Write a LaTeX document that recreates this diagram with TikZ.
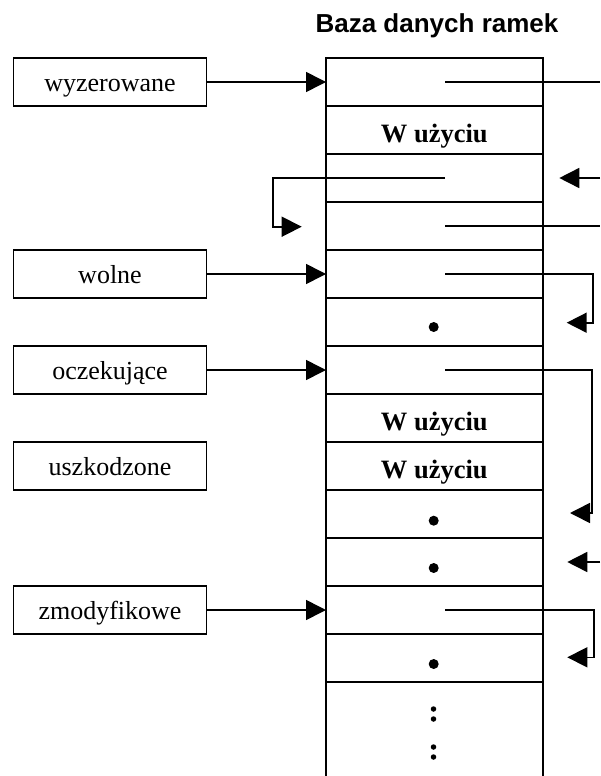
\documentclass[tikz,border=0pt]{standalone}
\usepackage{fontspec}
\setmainfont{Liberation Serif}
\setsansfont{Liberation Sans}
\usetikzlibrary{arrows.meta}

\begin{document}
\begin{tikzpicture}[x=1pt, y=-1pt, line width=1.6pt,
  cell/.style={draw, minimum width=216.7pt, minimum height=48pt,
    inner sep=0pt, outer sep=0pt},
  usedcell/.style={cell, font=\fontsize{26.5}{28}\selectfont\bfseries,
    text height=26pt, text depth=2pt},
  statebox/.style={draw, line width=1.3pt, minimum width=193.4pt,
    minimum height=48pt, inner sep=0pt, outer sep=0pt,
    font=\fontsize{26}{28}\selectfont, text height=21pt, text depth=2pt},
  tip/.style={-{Triangle[length=20pt,width=20pt]}},
  bigdot/.style={fill, circle, minimum size=10pt, inner sep=0pt, draw=none},
  smalldot/.style={fill, circle, minimum size=5.5pt, inner sep=0pt, draw=none}]

\useasboundingbox (0,0) rectangle (600,776);

% title
\node[anchor=base, inner sep=0pt, font=\sffamily\bfseries\fontsize{26}{28}\selectfont]
  (title) at (437,33) {Baza danych ramek};

% frame table
\node[cell]     (r1)  at (434.35,82)  {};
\node[usedcell] (r2)  at (434.35,130) {W użyciu};
\node[cell]     (r3)  at (434.35,178) {};
\node[cell]     (r4)  at (434.35,226) {};
\node[cell]     (r5)  at (434.35,274) {};
\node[cell]     (r6)  at (434.35,322) {};
\node[cell]     (r7)  at (434.35,370) {};
\node[usedcell] (r8)  at (434.35,418) {W użyciu};
\node[usedcell] (r9)  at (434.35,466) {W użyciu};
\node[cell]     (r10) at (434.35,514) {};
\node[cell]     (r11) at (434.35,562) {};
\node[cell]     (r12) at (434.35,610) {};
\node[cell]     (r13) at (434.35,658) {};
\draw (r13.south west) -- (326,776);
\draw (r13.south east) -- (542.7,776);

% frame contents
\node[bigdot] (d6)  at (433.7,327)   {};
\node[bigdot] (d10) at (433.7,520.7) {};
\node[bigdot] (d11) at (433.7,568)   {};
\node[bigdot] (d13) at (433.7,664)   {};
\node[smalldot] (e1) at (433.5,709) {};
\node[smalldot] (e2) at (433.5,719) {};
\node[smalldot] (e3) at (433.5,747) {};
\node[smalldot] (e4) at (433.5,757) {};

% state lists
\node[statebox] (wyz) at (110,82)  {wyzerowane};
\node[statebox] (wol) at (110,274) {wolne};
\node[statebox] (ocz) at (110,370) {oczekujące};
\node[statebox] (usz) at (110,466) {uszkodzone};
\node[statebox] (zmo) at (110,610) {zmodyfikowe};

\draw[tip] (wyz.east) -- (r1.west);
\draw[tip] (wol.east) -- (r5.west);
\draw[tip] (ocz.east) -- (r7.west);
\draw[tip] (zmo.east) -- (r12.west);

% list links
\coordinate (out1)  at (600,82);
\coordinate (out4)  at (600,226);
\coordinate (in3)   at (600,178);
\coordinate (in3e)  at (559.3,178);
\coordinate (in11)  at (600,562);
\coordinate (in11e) at (567.3,562);
\coordinate (l3e)   at (301.7,226.7);
\coordinate (l5e)   at (566.7,322.7);
\coordinate (l7e)   at (570,513);
\coordinate (l12e)  at (567.3,657.3);

\draw ([xshift=10.7pt]r1.center) -- (out1);
\draw ([xshift=10.7pt]r4.center) -- (out4);
\draw[tip] (in3) -- (in3e);
\draw[tip] (in11) -- (in11e);
\draw[tip] ([xshift=10.7pt]r3.center) -- (272.7,178) -- (272.7,226.7) -- (l3e);
\draw[tip] ([xshift=10.7pt]r5.center) -- (593,274) -- (593,322.7) -- (l5e);
\draw[tip] ([xshift=10.7pt]r7.center) -- (591.7,370) -- (591.7,513) -- (l7e);
\draw[tip] ([xshift=10.7pt]r12.center) -- (594,610) -- (594,657.3) -- (l12e);
\end{tikzpicture}
\end{document}
